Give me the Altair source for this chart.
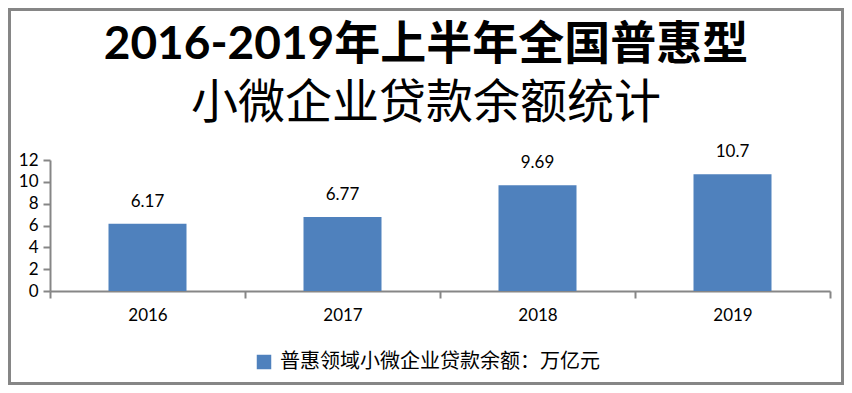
import altair as alt
import pandas as pd

years = ["2016", "2017", "2018", "2019"]
values = [6.17, 6.77, 9.69, 10.7]
labels = ["6.17", "6.77", "9.69", "10.7"]
series_name = "普惠领域小微企业贷款余额：万亿元"
y_ticks = [0, 2, 4, 6, 8, 10, 12]

df = pd.DataFrame({"year": years, "value": values, "label": labels,
                   "series": [series_name] * len(years)})

AX = "#868686"
NUMFONT = "Lato"

x = alt.X("year:N", title=None, sort=years,
          scale=alt.Scale(paddingInner=0, paddingOuter=0),
          axis=alt.Axis(labelAngle=0, tickBand="extent", tickSize=7, tickWidth=2,
                        tickColor=AX, domainColor=AX, domainWidth=2,
                        labelPadding=9, labelFontSize=17, labelFont=NUMFONT,
                        labelColor="black", grid=False))
y = alt.Y("value:Q", title=None,
          scale=alt.Scale(domain=[0, 12], nice=False),
          axis=alt.Axis(values=y_ticks, tickSize=7, tickWidth=2, tickColor=AX,
                        domainColor=AX, domainWidth=2, labelPadding=5,
                        labelOverlap=False, labelBound=False,
                        labelFontSize=17, labelFont=NUMFONT, labelColor="black",
                        grid=False))

bars = alt.Chart(df).mark_bar(width=alt.RelativeBandSize(0.4)).encode(
    x=x, y=y,
    color=alt.Color("series:N", scale=alt.Scale(range=["#4F81BD"]),
                    legend=alt.Legend(title=None, orient="none", legendX=204, legendY=192,
                                      symbolType="square", symbolSize=210,
                                      symbolStrokeWidth=0, labelFontSize=20,
                                      labelFont="Noto Sans CJK SC", labelColor="black",
                                      labelLimit=500, padding=0, labelOffset=6)))

text = alt.Chart(df).mark_text(baseline="alphabetic", dy=-17, fontSize=17,
                               font=NUMFONT, color="black").encode(
    x=x, y=y, text="label:N")

border = alt.Chart(pd.DataFrame({"a": [0]})).mark_rect(
    fillOpacity=0, stroke=AX, strokeWidth=3).encode(
    x=alt.value(-40.5), x2=alt.value(792.5), y=alt.value(-150.5), y2=alt.value(223.5))

chart = alt.layer(bars, text, border).properties(
    width=780, height=131,
    padding={"left": 42, "top": 152, "right": 14, "bottom": 94},
    autosize=alt.AutoSizeParams(type="none"),
    title=alt.TitleParams(
        text="2016-2019年上半年全国普惠型",
        subtitle="小微企业贷款余额统计",
        font="Lato, 'Noto Sans CJK SC'", fontSize=46, fontWeight="bold", color="black",
        subtitleFont="Noto Sans CJK SC", subtitleFontSize=47,
        subtitleFontWeight="normal", subtitleColor="black", subtitlePadding=12,
        anchor="middle", dx=-14, offset=-120),
).configure(background="white").configure_view(stroke=None)

chart.save("out.html", embed_options={"renderer": "svg", "actions": False})
